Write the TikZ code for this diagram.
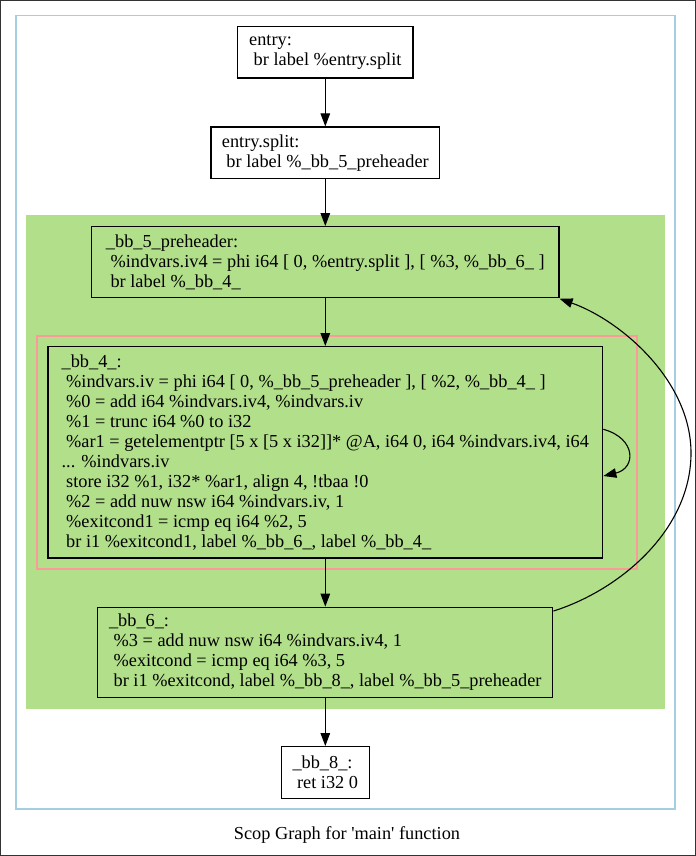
\documentclass[tikz,border=0pt]{standalone}
\usepackage{fontspec}
\setmainfont{Liberation Serif}
\usetikzlibrary{arrows.meta}
\definecolor{pblue}{HTML}{A6CEE3}
\definecolor{pgreen}{HTML}{B2DF8A}
\definecolor{ppink}{HTML}{FB9A99}
\newcommand\lsp{\hspace*{0.25em}}
\tikzset{
  blk/.style={draw=black, line width=1.3bp, inner sep=2bp, align=left,
    font=\fontsize{18.3bp}{20bp}\selectfont},
  edge/.style={draw=black, line width=1.1bp, -{Triangle[length=13bp,width=9.5bp]}},
  titletext/.style={font=\fontsize{18.3bp}{20bp}\selectfont, inner sep=0pt},
}
\begin{document}
\begin{tikzpicture}[x=1bp,y=-1bp]
\useasboundingbox (0,0) rectangle (696,856);
\fill[white] (0,0) rectangle (696,856);
\draw[black!80,line width=1.2bp] (0.6,0.6) rectangle (695.4,855.4);
\draw[pblue,line width=1.2bp] (16,15.5) rectangle (675,809);
\fill[pgreen] (25.7,215) rectangle (664.5,709.3);
\draw[ppink,line width=2bp] (37,336) rectangle (637.4,569.3);

\node[blk,fill=white,minimum width=175.5bp,minimum height=51.3bp] (entry) at (325.3,52.3)
  {entry:\\\lsp br label \%entry.split};
\node[blk,fill=white,minimum width=228.6bp,minimum height=51.3bp] (split) at (325.3,152.7)
  {entry.split:\\\lsp br label \%\_bb\_5\_preheader};
\node[blk,minimum width=467.3bp,minimum height=71bp] (pre) at (325.3,262.2)
  {\_bb\_5\_preheader:\\
   \lsp \%indvars.iv4 = phi i64 [ 0, \%entry.split ], [ \%3, \%\_bb\_6\_ ]\\
   \lsp br label \%\_bb\_4\_};
\node[blk,minimum width=554.8bp,minimum height=211.3bp] (bbf) at (325.3,452.3)
  {\_bb\_4\_:\\
   \lsp \%indvars.iv = phi i64 [ 0, \%\_bb\_5\_preheader ], [ \%2, \%\_bb\_4\_ ]\\
   \lsp \%0 = add i64 \%indvars.iv4, \%indvars.iv\\
   \lsp \%1 = trunc i64 \%0 to i32\\
   \lsp \%ar1 = getelementptr [5 x [5 x i32]]* @A, i64 0, i64 \%indvars.iv4, i64\\
   ... \%indvars.iv\\
   \lsp store i32 \%1, i32* \%ar1, align 4, !tbaa !0\\
   \lsp \%2 = add nuw nsw i64 \%indvars.iv, 1\\
   \lsp \%exitcond1 = icmp eq i64 \%2, 5\\
   \lsp br i1 \%exitcond1, label \%\_bb\_6\_, label \%\_bb\_4\_};
\node[blk,minimum width=455bp,minimum height=90.4bp] (bbs) at (325.3,652.5)
  {\_bb\_6\_:\\
   \lsp \%3 = add nuw nsw i64 \%indvars.iv4, 1\\
   \lsp \%exitcond = icmp eq i64 \%3, 5\\
   \lsp br i1 \%exitcond, label \%\_bb\_8\_, label \%\_bb\_5\_preheader};
\node[blk,fill=white,minimum width=88bp,minimum height=51.6bp] (bbe) at (325.3,772.5)
  {\_bb\_8\_:\\\lsp ret i32 0};

\node[titletext,anchor=base] (title) at (347,839.5)
  {Scop Graph for \textquotesingle main\textquotesingle\ function};

\draw[edge] (entry) -- (split);
\draw[edge] (split) -- (pre);
\draw[edge] (pre) -- (bbf);
\draw[edge] (bbf) -- (bbs);
\draw[edge] (bbs) -- (bbe);

% self loop on _bb_4_
\draw[edge] ([yshift=23bp]bbf.east) .. controls ([xshift=33bp,yshift=14bp]bbf.east)
  and ([xshift=33bp,yshift=-16bp]bbf.east) .. ([yshift=-23.7bp]bbf.east);

% back edge _bb_6_ -> _bb_5_preheader
\coordinate (bend) at (691,453);
\draw[edge] ([yshift=-4.4bp]bbs.north east) .. controls (620,590) and (691,530) .. (bend)
  .. controls (691,380) and (620,320) .. ([yshift=-0.4bp]pre.south east);
\end{tikzpicture}
\end{document}
